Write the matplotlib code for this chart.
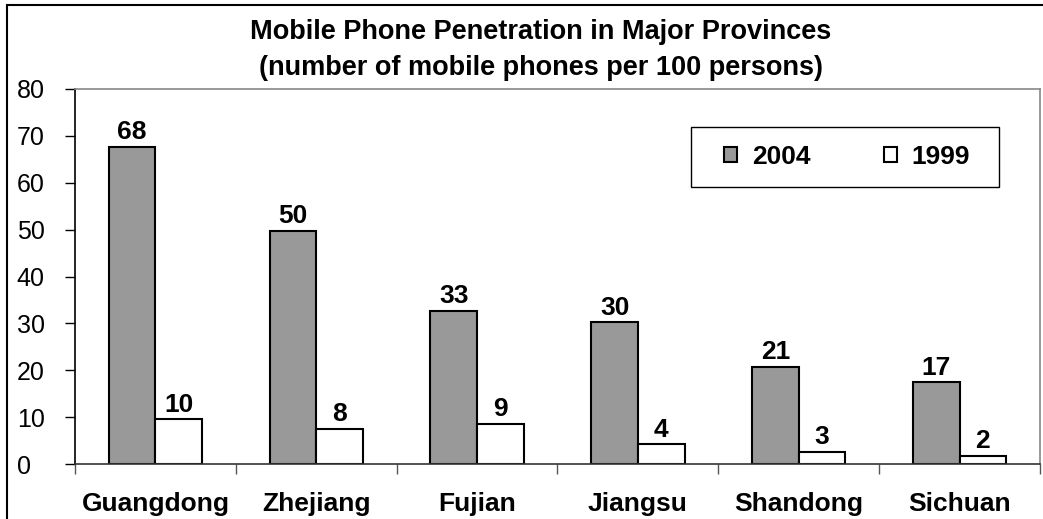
import numpy as np
import matplotlib.pyplot as plt
from matplotlib.patches import Rectangle

plt.rcParams['font.family'] = ['Liberation Sans', 'DejaVu Sans']

# data
provinces = ['Guangdong', 'Zhejiang', 'Fujian', 'Jiangsu', 'Shandong', 'Sichuan']
y2004 = [67.7, 49.8, 32.6, 30.2, 20.7, 17.4]
y1999 = [9.5, 7.5, 8.6, 4.2, 2.6, 1.8]
yticks = [0, 10, 20, 30, 40, 50, 60, 70, 80]

W, H = 1043, 519
fig = plt.figure(figsize=(W / 100, H / 100), dpi=100)
ax = fig.add_axes([75 / W, 1 - 464 / H, 965 / W, 375 / H])

x = np.arange(len(provinces))
bw = 0.29
ax.bar(x - bw / 2, y2004, bw, color='#999999', edgecolor='black', linewidth=1.5, label='2004')
ax.bar(x + bw / 2, y1999, bw, color='white', edgecolor='black', linewidth=1.5, label='1999')

# value labels, rounded like the original
for xi, v in zip(x - bw / 2, y2004):
    ax.annotate(f'{round(v)}', (xi, v), xytext=(0, 2), textcoords='offset points',
                ha='center', va='bottom', fontsize=19, fontweight='bold')
for xi, v in zip(x + bw / 2, y1999):
    ax.annotate(f'{round(v + 0.001)}', (xi, v), xytext=(0, 2), textcoords='offset points',
                ha='center', va='bottom', fontsize=19, fontweight='bold')

ax.set_xlim(-0.5, len(provinces) - 0.5)
ax.set_ylim(0, 80)
ax.set_yticks(yticks)
ax.tick_params(axis='y', direction='out', length=7, width=1, labelsize=18, pad=35)
for lab in ax.get_yticklabels():
    lab.set_horizontalalignment('left')

# category boundaries as major ticks, names as minor ticks
ax.set_xticks(np.arange(-0.5, len(provinces)))
ax.set_xticklabels([])
ax.set_xticks(x, minor=True)
ax.set_xticklabels(provinces, minor=True, fontsize=19, fontweight='bold')
ax.tick_params(axis='x', which='major', direction='out', length=7, width=1, color='#555555')
ax.tick_params(axis='x', which='minor', length=0, pad=20)

ax.spines['left'].set_color('black')
ax.spines['bottom'].set_color('#333333')
ax.spines['top'].set_color('#888888')
ax.spines['right'].set_color('#888888')
for s in ax.spines.values():
    s.set_linewidth(1.2)

# legend entries spread over the inner width, frame drawn separately
leg = ax.legend(loc='center', bbox_to_anchor=(724 / W, 1 - 170 / H, 246 / W, 26 / H),
                bbox_transform=fig.transFigure, mode='expand',
                ncol=2, frameon=False,
                prop={'size': 19, 'weight': 'bold'}, handlelength=0.5, handleheight=0.5,
                handletextpad=0.55, borderpad=0, borderaxespad=0)
fig.patches.append(Rectangle((691 / W, 1 - 187 / H), 308 / W, 60 / H, transform=fig.transFigure,
                             fill=False, edgecolor='black', linewidth=1.0))

fig.text(541 / W, 1 - 50 / H,
         'Mobile Phone Penetration in Major Provinces\n(number of mobile phones per 100 persons)',
         ha='center', va='center', fontsize=19.5, fontweight='bold', linespacing=1.5)

# outer chart border
fig.patches.append(Rectangle((7 / W, -0.1), 1.2, 1 - 5 / H + 0.1, transform=fig.transFigure,
                             fill=False, edgecolor='black', linewidth=1.5))

fig.savefig('out.png', dpi=100)
